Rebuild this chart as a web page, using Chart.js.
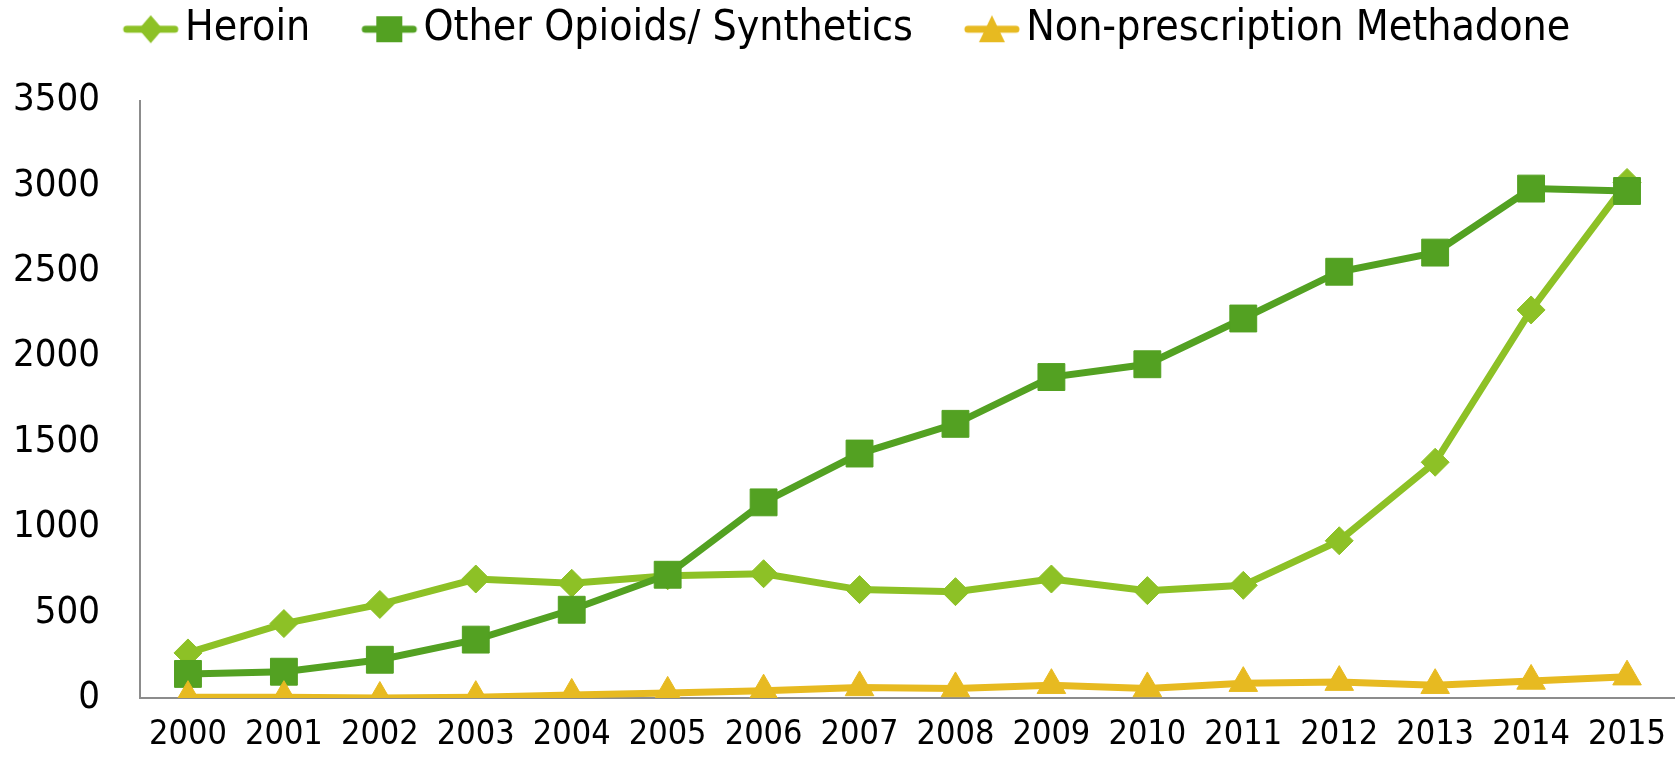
<!DOCTYPE html>
<html>
<head>
<meta charset="utf-8">
<script src="https://cdn.jsdelivr.net/npm/chart.js@4.4.1/dist/chart.umd.min.js"></script>
<style>
  html, body { margin: 0; padding: 0; background: #fff; overflow: hidden; }
  #opioidChart { display: block; }
</style>
</head>
<body>
<canvas id="opioidChart" width="1675" height="763"></canvas>
<script>
// Deaths by drug type, 2000-2015
const years = ['2000', '2001', '2002', '2003', '2004', '2005', '2006', '2007',
               '2008', '2009', '2010', '2011', '2012', '2013', '2014', '2015'];
const heroin = [264, 436, 548, 697, 672, 716, 728, 635, 623, 697, 629, 660, 921, 1381, 2273, 3020];
const otherOpioids = [141, 154, 224, 342, 517, 722, 1146, 1432, 1606, 1880, 1955, 2223, 2497, 2609, 2984, 2970];
const methadone = [5, 5, 0, 5, 18, 30, 43, 62, 56, 75, 56, 87, 93, 75, 100, 125];
const seriesNames = ['Heroin', 'Other Opioids/ Synthetics', 'Non-prescription Methadone'];
const yTicks = [0, 500, 1000, 1500, 2000, 2500, 3000, 3500];

const COLORS = ['#8DC126', '#53A122', '#E7BA21'];
const FONT = "'DejaVu Sans Condensed', 'Liberation Sans Narrow', 'DejaVu Sans', sans-serif";

/**
 * Build an Excel-style legend icon: short line with the marker in the middle.
 * The icon sits in the right part of a wider transparent image so it hugs the text.
 */
function legendIcon(color, shape) {
    const c = document.createElement('canvas');
    c.width = 118;
    c.height = 32;
    const g = c.getContext('2d');
    const x0 = 60, cx = x0 + 28, cy = 16;
    g.strokeStyle = color;
    g.fillStyle = color;
    g.lineWidth = 7;
    g.lineCap = 'round';
    g.beginPath();
    g.moveTo(x0 + 4, cy);
    g.lineTo(x0 + 52, cy);
    g.stroke();
    g.beginPath();
    if (shape === 'diamond') {
        g.moveTo(cx, cy - 14); g.lineTo(cx + 12, cy); g.lineTo(cx, cy + 14); g.lineTo(cx - 12, cy);
    } else if (shape === 'square') {
        g.rect(cx - 13, cy - 13, 26, 26);
    } else {
        g.moveTo(cx, cy - 14); g.lineTo(cx + 13, cy + 13); g.lineTo(cx - 13, cy + 13);
    }
    g.closePath();
    g.fill();
    return c;
}

const icons = [
    legendIcon(COLORS[0], 'diamond'),
    legendIcon(COLORS[1], 'square'),
    legendIcon(COLORS[2], 'triangle')
];

// Extra room between the legend and the plot, and nudge the legend a bit left
const legendSpacer = {
    id: 'legendSpacer',
    beforeInit(chart) {
        const origFit = chart.legend.fit;
        chart.legend.fit = function () {
            origFit.bind(chart.legend)();
            this.height += 40;
        };
    },
    afterLayout(chart) {
        const shift = 837 - (chart.legend.left + chart.legend.right) / 2 - 12;
        chart.legend.left += shift;
        chart.legend.right += shift;
    }
};

const data = {
    labels: years,
    datasets: [
        {
            label: seriesNames[0],
            data: heroin,
            borderColor: COLORS[0],
            backgroundColor: COLORS[0],
            borderWidth: 7,
            pointStyle: 'rectRot',
            pointRadius: 14,
            pointBorderWidth: 1,
            order: 3
        },
        {
            label: seriesNames[1],
            data: otherOpioids,
            borderColor: COLORS[1],
            backgroundColor: COLORS[1],
            borderWidth: 7,
            pointStyle: 'rect',
            pointRadius: 19,
            pointBorderWidth: 1,
            order: 2
        },
        {
            label: seriesNames[2],
            data: methadone,
            borderColor: COLORS[2],
            backgroundColor: COLORS[2],
            borderWidth: 7,
            pointStyle: 'triangle',
            pointRadius: 16.5,
            pointBorderWidth: 1,
            order: 1
        }
    ]
};

const config = {
    type: 'line',
    data: data,
    plugins: [legendSpacer],
    options: {
        responsive: false,
        animation: false,
        layout: {
            autoPadding: false,
            padding: { left: 0, right: 0, top: 0, bottom: 0 }
        },
        plugins: {
            tooltip: { enabled: false },
            legend: {
                position: 'top',
                labels: {
                    usePointStyle: true,
                    pointStyleWidth: 84,
                    padding: 8,
                    color: '#000',
                    font: { size: 42.5, family: FONT },
                    generateLabels: chart => chart.data.datasets.map((ds, i) => ({
                        text: ds.label,
                        pointStyle: icons[i],
                        fillStyle: ds.borderColor,
                        strokeStyle: ds.borderColor,
                        lineWidth: 0,
                        fontColor: '#000',
                        hidden: false,
                        datasetIndex: i
                    }))
                }
            }
        },
        scales: {
            x: {
                offset: true,
                grid: { display: false, drawTicks: false },
                border: { display: true, color: '#8c8c8c', width: 2 },
                afterFit: axis => {
                    axis.height = 65;
                    axis.paddingLeft = 0;
                    axis.paddingRight = 0;
                },
                ticks: {
                    color: '#000',
                    padding: 20,
                    maxRotation: 0,
                    autoSkip: false,
                    font: { size: 34, family: FONT, lineHeight: 1 }
                }
            },
            y: {
                min: 0,
                max: 3500,
                afterBuildTicks: axis => {
                    axis.ticks = yTicks.map(v => ({ value: v }));
                },
                afterFit: axis => { axis.width = 140; },
                grid: { display: false, drawTicks: false },
                border: { display: true, color: '#8c8c8c', width: 2 },
                ticks: {
                    color: '#000',
                    padding: 40,
                    font: { size: 38, family: FONT },
                    callback: value => String(value)
                }
            }
        }
    }
};

new Chart(document.getElementById('opioidChart'), config);
</script>
</body>
</html>
